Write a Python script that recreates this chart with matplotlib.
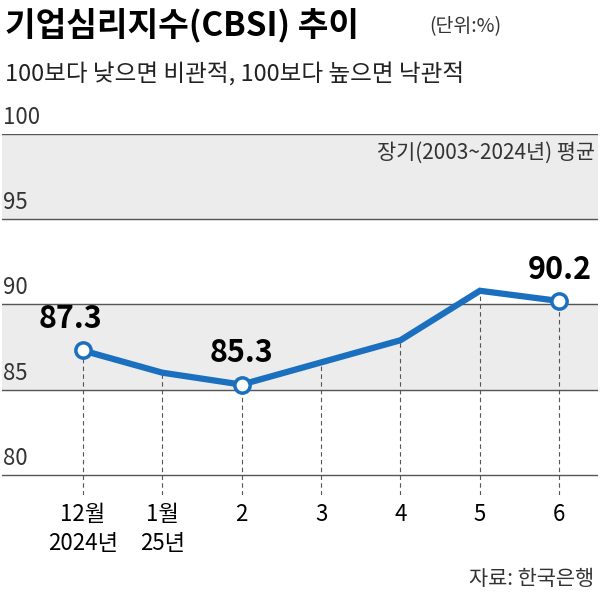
import matplotlib
matplotlib.use("Agg")
import matplotlib.pyplot as plt

plt.rcParams['font.family'] = ['Noto Sans CJK KR', 'DejaVu Sans']

labels = ["12월\n2024년", "1월\n25년", "2", "3", "4", "5", "6"]
values = [87.3, 86.0, 85.3, 86.6, 87.9, 90.8, 90.2]
annot_idx = [0, 2, 6]
yticks = [80, 85, 90, 95, 100]

fig = plt.figure(figsize=(6, 6), dpi=100)
ax = fig.add_axes([0.003, 0.175, 0.994, 0.602])
ax.set_xlim(-1.02, 6.49)
ax.set_ylim(78.83, 100)
ax.axhspan(95, 100, color='#ececec', zorder=0)
ax.axhspan(85, 90, color='#ececec', zorder=0)
for t in yticks:
    ax.axhline(t, color='#555555', lw=1, zorder=1)
    ax.text(-1.0, t + 0.3, str(t), fontsize=16, color='#333333', va='bottom', ha='left')
xs = list(range(len(values)))
for x, v in zip(xs, values):
    ax.plot([x, x], [78.83, v], ls=(0, (4, 3)), color='#555555', lw=0.8, zorder=1)
ax.plot(xs, values, color='#1a6fbf', lw=4.5, zorder=3, solid_joinstyle='miter')
ax.plot([xs[i] for i in annot_idx], [values[i] for i in annot_idx], 'o', ms=11,
        mfc='white', mec='#1a6fbf', mew=2.5, zorder=4)
for i in annot_idx:
    ax.text(xs[i] - (0.15 if i == 0 else 0), values[i] + 0.9, f"{values[i]}", fontsize=22,
            fontweight='bold', ha='center', va='bottom', zorder=5)
ax.text(6.45, 98.9, "장기(2003~2024년) 평균", fontsize=15, ha='right', va='center', color='#333333')
ax.axis('off')

for x, lab in zip(xs, labels):
    fig.text(ax.transData.transform((x, 0))[0] / 600, 1 - 503 / 600, lab, fontsize=16,
             ha='center', va='top', linespacing=1.35)

fig.text(0.008, 0.958, "기업심리지수(CBSI) 추이", fontsize=24, fontweight='bold', va='center')
fig.text(0.715, 0.955, "(단위:%)", fontsize=14, va='center', color='#333333')
fig.text(0.008, 0.875, "100보다 낮으면 비관적, 100보다 높으면 낙관적", fontsize=17, va='center', color='#222222')
fig.text(0.99, 0.035, "자료: 한국은행", fontsize=15, ha='right', va='center', color='#333333')

fig.savefig("out.png", dpi=100)
